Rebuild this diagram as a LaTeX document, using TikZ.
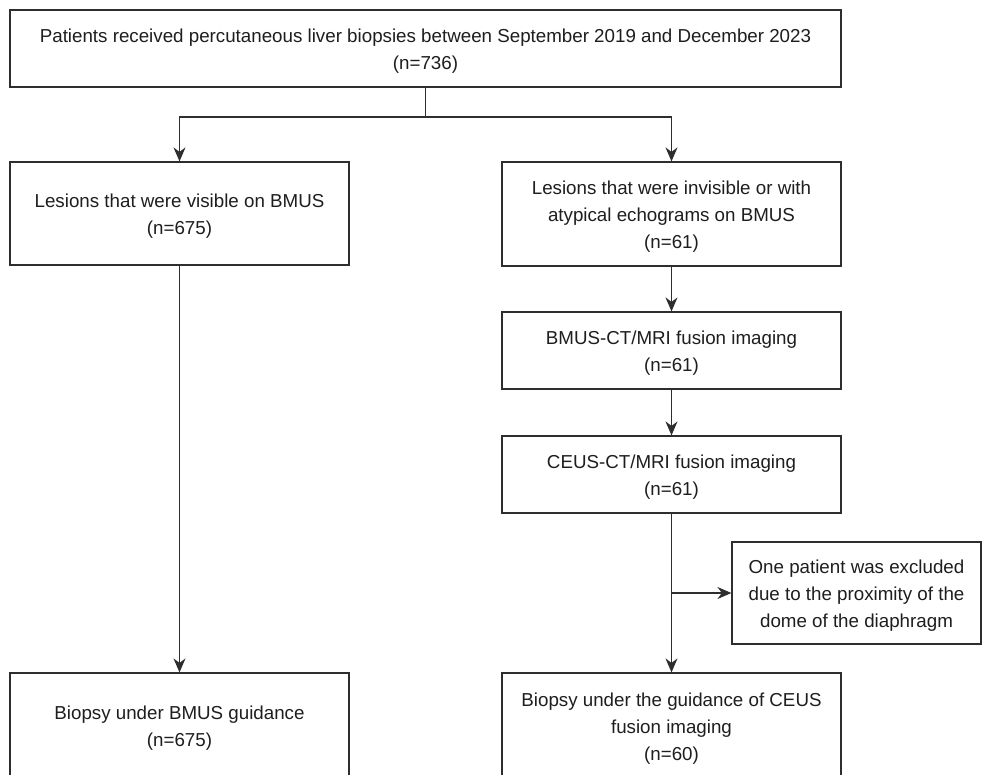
\documentclass[tikz,border=0pt]{standalone}
\usepackage{fontspec}
\setmainfont{Liberation Sans}
\usetikzlibrary{arrows.meta}
\definecolor{txt}{HTML}{1E1E1E}
\definecolor{ln}{HTML}{2E2E2E}
\newcommand\tstrut{\rule{0pt}{19.5bp}}
\tikzset{
  box/.style={draw=ln, line width=1.2bp, rectangle, inner sep=0pt, align=center,
    text=txt, font=\fontsize{18.75bp}{27bp}\selectfont},
  arr/.style={draw=ln, line width=1.2bp, -{Stealth[length=14bp,width=12bp,inset=4.5bp]}},
  con/.style={draw=ln, line width=1.2bp}
}
\begin{document}
\begin{tikzpicture}[x=1bp,y=-1bp]
\useasboundingbox (0,0) rectangle (982,775);
\clip (0,0) rectangle (982,775);
\fill[white] (0,0) rectangle (982,775);
\node[box, minimum width=831bp, minimum height=77bp] (top) at (425.5,48.5)
  {\tstrut Patients received percutaneous liver biopsies between September 2019 and December 2023\\(n=736)};
\node[box, minimum width=339bp, minimum height=103bp] (left1) at (179.5,213.5)
  {\tstrut Lesions that were visible on BMUS\\(n=675)};
\node[box, minimum width=339bp, minimum height=104bp] (right1) at (671.5,214)
  {\tstrut Lesions that were invisible or with\\atypical echograms on BMUS\\(n=61)};
\node[box, minimum width=339bp, minimum height=77bp] (fus1) at (671.5,350.5)
  {\tstrut BMUS-CT/MRI fusion imaging\\(n=61)};
\node[box, minimum width=339bp, minimum height=77bp] (fus2) at (671.5,474.5)
  {\tstrut CEUS-CT/MRI fusion imaging\\(n=61)};
\node[box, minimum width=249bp, minimum height=102bp] (excl) at (856.5,593)
  {\tstrut One patient was excluded\\due to the proximity of the\\dome of the diaphragm};
\node[box, minimum width=339bp, minimum height=105bp] (bl) at (179.5,725.5)
  {\tstrut Biopsy under BMUS guidance\\(n=675)};
\node[box, minimum width=339bp, minimum height=105bp] (br) at (671.5,725.5)
  {\tstrut Biopsy under the guidance of CEUS\\fusion imaging\\(n=60)};
\coordinate (j1) at (425.5,117);
\coordinate (j2) at (671.5,593);
\draw[con] (top.south) -- (j1);
\draw[arr] (j1) -| (left1.north);
\draw[arr] (j1) -| (right1.north);
\draw[arr] (right1.south) -- (fus1.north);
\draw[arr] (fus1.south) -- (fus2.north);
\draw[arr] (fus2.south) -- (br.north);
\draw[arr] (j2) -- (excl.west);
\draw[arr] (left1.south) -- (bl.north);
\end{tikzpicture}
\end{document}
